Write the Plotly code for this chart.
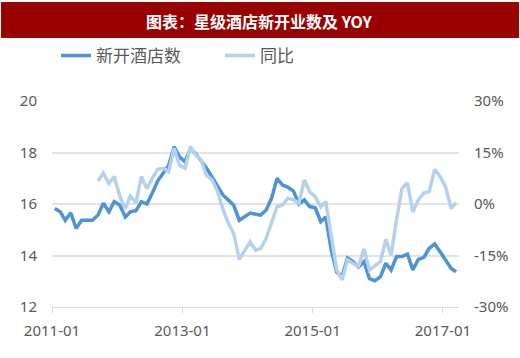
import plotly.graph_objects as go
import pandas as pd

months = pd.date_range("2011-01-01", periods=75, freq="MS") + pd.Timedelta(days=15)
hotels = [15.83, 15.70, 15.37, 15.66, 15.05, 15.37, 15.37, 15.37, 15.57, 16.03,
          15.70, 16.09, 15.96, 15.50, 15.70, 15.74, 16.09, 16.00, 16.42, 16.90,
          17.20, 17.50, 18.22, 17.83, 17.64, 18.16, 17.96, 17.70, 17.40, 17.05,
          16.70, 16.35, 16.15, 15.95, 15.37, 15.50, 15.65, 15.60, 15.57, 15.77,
          16.22, 17.00, 16.74, 16.65, 16.50, 16.00, 16.16, 15.90, 15.85, 15.31,
          15.50, 14.20, 13.35, 13.20, 13.90, 13.76, 13.55, 13.76, 13.10, 13.02,
          13.17, 13.70, 13.44, 13.96, 13.96, 14.05, 13.44, 13.85, 13.93, 14.28,
          14.45, 14.15, 13.83, 13.50, 13.37]
yoy = [None] * 8 + [6.7, 9.0, 6.0, 8.0, 2.3, -1.3, 2.3, 0.4, 8.0, 4.5,
                    7.5, 10.1, 10.4, 9.4, 16.2, 11.3, 10.4, 16.7, 14.3, 12.8,
                    8.3, 7.1, 3.8, -1.5, -5.6, -8.6, -16.1, -13.5, -11.0, -13.5,
                    -12.9, -10.0, -5.3, -0.8, -0.3, 1.7, 1.2, 0.2, 7.0, 3.6,
                    2.1, -0.8, 0.7, -9.0, -19.2, -22.1, -16.3, -17.3, -18.2, -13.1,
                    -19.2, -18.0, -16.8, -10.3, -14.9, -4.5, 4.5, 6.2, -2.3, 1.2,
                    3.2, 3.6, 10.1, 8.0, 5.0, -1.3, 0.4]

left_ticks = [12, 14, 16, 18, 20]
right_ticks = [-30, -15, 0, 15, 30]
right_labels = ["-30%", "-15%", "0%", "15%", "30%"]
x_ticks = ["2011-01-01", "2013-01-01", "2015-01-01", "2017-01-01"]
x_labels = ["2011-01", "2013-01", "2015-01", "2017-01"]

grey = "#595959"
fig = go.Figure()
fig.add_trace(go.Scatter(x=months, y=hotels, name="新开酒店数", mode="lines",
                         line=dict(color="#4D93D6", width=3.5)))
fig.add_trace(go.Scatter(x=months, y=yoy, name="同比", mode="lines", yaxis="y2",
                         line=dict(color="#B4D2EE", width=3.5)))

L, R, T, B = 52, 61, 101, 51
W, H = 520, 358
pw, ph = W - L - R, H - T - B

def px(x):
    return (x - L) / pw

def py(y):
    return (H - B - y) / ph

fig.add_shape(type="rect", xref="paper", yref="paper",
              x0=px(1), x1=px(519), y0=py(38), y1=py(2),
              fillcolor="#990000", line=dict(width=0), layer="below")
fig.add_annotation(xref="paper", yref="paper", x=px(259), y=py(21),
                   text="<b>图表：星级酒店新开业数及 YOY</b>", showarrow=False,
                   font=dict(color="white", size=16, family="Noto Sans CJK SC"),
                   xanchor="center", yanchor="middle")

fig.update_layout(
    width=W, height=H,
    margin=dict(l=L, r=R, t=T, b=B),
    paper_bgcolor="white", plot_bgcolor="white",
    font=dict(family="Noto Sans CJK SC, Noto Sans", color=grey, size=14),
    showlegend=True,
    legend=dict(orientation="h", x=px(56), y=py(38), xanchor="left", yanchor="top",
                font=dict(size=17, color=grey, family="Noto Sans CJK SC"),
                entrywidth=119, entrywidthmode="pixels", bgcolor="rgba(0,0,0,0)"),
    xaxis=dict(type="date", range=["2011-01-01", "2017-04-01"],
               tickvals=x_ticks, ticktext=x_labels, showgrid=False,
               showline=True, linecolor="#d9d9d9", linewidth=1,
               ticks="outside", ticklen=5, tickcolor="#d9d9d9",
               ticklabelstandoff=5,
               tickfont=dict(size=15, family="Noto Sans", color=grey)),
    yaxis=dict(range=[12, 20], tickvals=left_ticks, showgrid=True,
               gridcolor="#e3e3e3", gridwidth=1.5, zeroline=False,
               tickfont=dict(size=15, family="Noto Sans", color=grey),
               ticks="", ticklabelstandoff=14),
    yaxis2=dict(range=[-30, 30], tickvals=right_ticks, ticktext=right_labels,
                overlaying="y", side="right", showgrid=False, zeroline=False,
                ticks="", ticklabelstandoff=14,
                tickfont=dict(size=15, family="Noto Sans", color=grey)),
)

fig.write_html("out.html", config={"displayModeBar": False},
               post_script="document.body.style.margin='0px';")
